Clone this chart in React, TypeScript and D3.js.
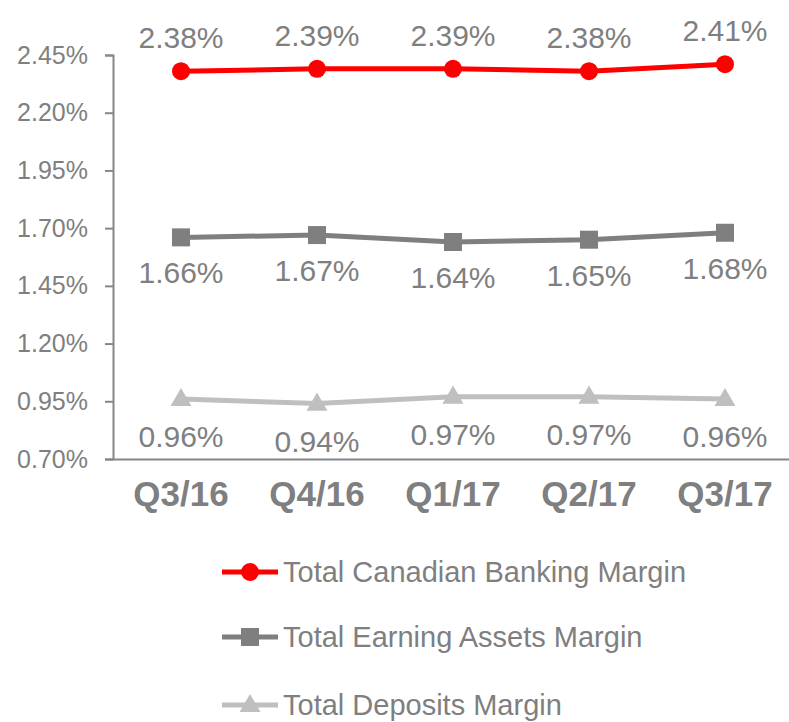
import React, { useEffect, useRef } from 'react';
import * as d3 from 'd3';

const quarters = ['Q3/16', 'Q4/16', 'Q1/17', 'Q2/17', 'Q3/17'];
const bankingMargin = [2.38, 2.39, 2.39, 2.38, 2.41];
const earningAssetsMargin = [1.66, 1.67, 1.64, 1.65, 1.68];
const depositsMargin = [0.96, 0.94, 0.97, 0.97, 0.96];
const yTicks = [0.7, 0.95, 1.2, 1.45, 1.7, 1.95, 2.2, 2.45];

const series = [
  { name: 'Total Canadian Banking Margin', values: bankingMargin, color: '#FF0000', marker: 'circle', labelDy: -23 },
  { name: 'Total Earning Assets Margin', values: earningAssetsMargin, color: '#7F7F7F', marker: 'square', labelDy: 46 },
  { name: 'Total Deposits Margin', values: depositsMargin, color: '#BFBFBF', marker: 'triangle', labelDy: 48 },
];

const App: React.FC = () => {
  const chartRef = useRef<SVGSVGElement | null>(null);

  useEffect(() => {
    if (!chartRef.current) return;
    const svg = d3.select(chartRef.current);
    svg.selectAll('*').remove();

    const font = '"Liberation Sans", Arial, sans-serif';
    const textColor = '#7F7F7F';
    const axisColor = '#868686';

    // scales
    const x = d3.scaleBand().domain(quarters).range([113, 793]);
    const y = d3.scaleLinear().domain([0.7, 2.45]).range([459, 55]);
    const cx = (q: string) => (x(q) || 0) + x.bandwidth() / 2;

    // y axis
    const yAxis = svg.append('g')
      .attr('transform', 'translate(113,0)')
      .call(d3.axisLeft(y).tickValues(yTicks).tickSize(8).tickPadding(17).tickFormat((d) => d3.format('.2f')(d as number) + '%'));
    yAxis.select('.domain').attr('stroke', axisColor).attr('stroke-width', 2);
    yAxis.selectAll('.tick line').attr('stroke', axisColor).attr('stroke-width', 2);
    yAxis.selectAll('.tick text')
      .attr('fill', textColor)
      .style('font-family', font)
      .style('font-size', '25px');

    // x axis
    const xAxis = svg.append('g')
      .attr('transform', 'translate(0,459)')
      .call(d3.axisBottom(x).tickSize(0).tickPadding(22));
    xAxis.select('.domain').attr('stroke', axisColor).attr('stroke-width', 2);
    xAxis.selectAll('.tick text')
      .attr('fill', textColor)
      .attr('dy', '0.71em')
      .style('font-family', font)
      .style('font-size', '35px')
      .style('font-weight', 'bold');

    const drawMarker = (g: d3.Selection<SVGGElement, unknown, null, undefined>, kind: string, px: number, py: number, color: string) => {
      if (kind === 'circle') {
        g.append('circle').attr('cx', px).attr('cy', py).attr('r', 9).attr('fill', color);
      } else if (kind === 'square') {
        g.append('rect').attr('x', px - 9).attr('y', py - 9).attr('width', 18).attr('height', 18).attr('fill', color);
      } else {
        g.append('path')
          .attr('d', d3.symbol(d3.symbolTriangle, 190)())
          .attr('transform', `translate(${px},${py + 1})`)
          .attr('fill', color);
      }
    };

    const line = d3.line<number>()
      .x((_, i) => cx(quarters[i]))
      .y((d) => y(d));

    series.forEach((s) => {
      const g = svg.append('g');
      g.append('path')
        .datum(s.values)
        .attr('d', line)
        .attr('fill', 'none')
        .attr('stroke', s.color)
        .attr('stroke-width', 5);
      s.values.forEach((v, i) => {
        drawMarker(g, s.marker, cx(quarters[i]), y(v), s.color);
        g.append('text')
          .attr('x', cx(quarters[i]))
          .attr('y', y(v) + s.labelDy)
          .attr('text-anchor', 'middle')
          .attr('fill', textColor)
          .style('font-family', font)
          .style('font-size', '30px')
          .text(d3.format('.2f')(v) + '%');
      });
    });

    // legend
    const legend = svg.append('g');
    const legendY = [572, 637, 705];
    series.forEach((s, i) => {
      legend.append('line')
        .attr('x1', 222).attr('x2', 278)
        .attr('y1', legendY[i]).attr('y2', legendY[i])
        .attr('stroke', s.color)
        .attr('stroke-width', 5);
      drawMarker(legend, s.marker, 250, legendY[i], s.color);
      legend.append('text')
        .attr('x', 283)
        .attr('y', legendY[i] + 10)
        .attr('fill', textColor)
        .style('font-family', font)
        .style('font-size', '29px')
        .text(s.name);
    });
  }, []);

  return (
    <div style={{ position: 'absolute', left: 0, top: 0 }}>
      <svg ref={chartRef} width={789} height={722} style={{ display: 'block', background: '#fff' }}></svg>
    </div>
  );
};

export default App;
